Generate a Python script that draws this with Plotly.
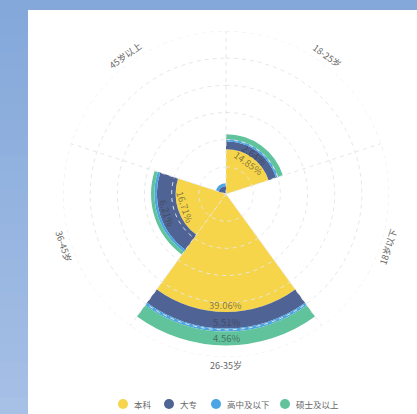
import math
import numpy as np
import plotly.graph_objects as go

# Age groups, clockwise from north, one 72-degree sector each
categories = ["18-25岁", "18岁以下", "26-35岁", "36-45岁", "45岁以上"]
sector_centers = [36, 108, 180, 252, 324]
sector_width = 72

# Education levels (stacked outward) and their colours
series_names = ["本科", "大专", "高中及以下", "硕士及以上"]
series_colors = ["#f7d54a", "#4f6394", "#4ba4e3", "#60c39b"]

# Share of respondents (%) per age group
bachelor = [14.85, 0.0, 39.06, 16.71, 0.0]
college = [2.64, 0.0, 5.51, 6.21, 2.60]
high_school = [0.72, 0.0, 1.02, 0.80, 1.00]
master = [1.62, 0.0, 4.56, 1.12, 0.0]

# Which segments carry a value label: (series index, category index)
labelled = [(0, 0), (1, 0), (0, 2), (1, 2), (3, 2), (0, 3), (1, 3)]

series_values = [bachelor, college, high_school, master]

# Canvas and polar geometry
W, H = 417, 414
CX, CY, R_PX = 226, 194, 163          # centre and outer radius in px
R_MAX, RING_STEP = 54, 9              # radial axis range and ring spacing
FONT = "Noto Sans CJK SC, Noto Sans, sans-serif"
GRID = "#e6e6e6"

fig = go.Figure()

for name, color, vals in zip(series_names, series_colors, series_values):
    fig.add_trace(go.Barpolar(
        r=vals, theta=sector_centers, width=[sector_width] * len(vals),
        name=name, marker=dict(color=color, line=dict(width=0)),
        showlegend=False,
    ))

# Dashed rings and spokes drawn over the bars
ring_theta = np.linspace(0, 360, 241)
for k in range(1, R_MAX // RING_STEP + 1):
    fig.add_trace(go.Scatterpolar(
        r=[k * RING_STEP] * len(ring_theta), theta=ring_theta, mode="lines",
        line=dict(color=GRID, width=1, dash="4px,4px"),
        hoverinfo="skip", showlegend=False,
    ))
for c in sector_centers:
    edge = c - sector_width / 2
    fig.add_trace(go.Scatterpolar(
        r=[0, R_MAX], theta=[edge, edge], mode="lines",
        line=dict(color=GRID, width=1, dash="4px,4px"),
        hoverinfo="skip", showlegend=False,
    ))


def to_paper(r_px, theta_deg):
    t = math.radians(theta_deg)
    x = CX + r_px * math.sin(t)
    y = CY - r_px * math.cos(t)
    return x / W, 1 - y / H


def tangent_angle(theta_deg):
    a = (theta_deg - 180) % 360
    if a > 90:
        a -= 180
    if a > 90:
        a -= 180
    if a < -90:
        a += 180
    return a


px_per_unit = R_PX / R_MAX
annotations = []
shapes = []

# Value labels near the outer end of each segment
for si, ci in labelled:
    base = sum(series_values[j][ci] for j in range(si))
    val = series_values[si][ci]
    r_lab = base + val - min(val / 2, 2.3)
    x, y = to_paper(r_lab * px_per_unit, sector_centers[ci])
    annotations.append(dict(
        x=x, y=y, xref="paper", yref="paper", showarrow=False,
        text=f"{val:.2f}%", textangle=tangent_angle(sector_centers[ci]),
        font=dict(family=FONT, size=9.5, color="rgba(60,60,60,0.62)"),
        xanchor="center", yanchor="middle",
    ))

# Category labels just outside the outer ring
for cat, c in zip(categories, sector_centers):
    x, y = to_paper(R_PX + 8, c)
    annotations.append(dict(
        x=x, y=y, xref="paper", yref="paper", showarrow=False,
        text=cat, textangle=tangent_angle(c),
        font=dict(family=FONT, size=9, color="#666666"),
        xanchor="center", yanchor="middle",
    ))

# Legend row: round swatch followed by the series name
legend_x = [123, 169, 216, 285]
LEG_Y, DOT_R = 404, 5
for name, color, lx in zip(series_names, series_colors, legend_x):
    shapes.append(dict(type="circle", xref="paper", yref="paper",
                       x0=(lx - DOT_R) / W, x1=(lx + DOT_R) / W,
                       y0=1 - (LEG_Y + DOT_R) / H, y1=1 - (LEG_Y - DOT_R) / H,
                       fillcolor=color, line=dict(width=0)))
    annotations.append(dict(
        x=(lx + 9) / W, y=1 - LEG_Y / H, xref="paper", yref="paper",
        showarrow=False, text=name, xanchor="left", yanchor="middle",
        font=dict(family=FONT, size=8.5, color="#666666"),
    ))

# Blue page background with a soft vertical gradient, white card on top
n_band = 24
for i in range(n_band):
    f = i / (n_band - 1)
    r_c = int(132 + f * (166 - 132))
    g_c = int(168 + f * (192 - 168))
    b_c = int(218 + f * (230 - 218))
    shapes.append(dict(type="rect", xref="paper", yref="paper",
                       x0=0, x1=28 / W, y0=max(0, 1 - (i + 1.6) / n_band),
                       y1=1 - i / n_band, fillcolor=f"rgb({r_c},{g_c},{b_c})",
                       line=dict(width=0), layer="below"))
shapes.append(dict(type="rect", xref="paper", yref="paper", x0=28 / W, x1=1,
                   y0=0, y1=1 - 10 / H, fillcolor="white", line=dict(width=0),
                   layer="below"))

fig.update_layout(
    width=W, height=H,
    margin=dict(l=0, r=0, t=0, b=0),
    paper_bgcolor="#84a8da",
    plot_bgcolor="rgba(0,0,0,0)",
    font=dict(family=FONT),
    showlegend=False,
    polar=dict(
        domain=dict(x=[(CX - R_PX) / W, (CX + R_PX) / W],
                    y=[(H - CY - R_PX) / H, (H - CY + R_PX) / H]),
        bgcolor="rgba(0,0,0,0)",
        barmode="stack",
        radialaxis=dict(range=[0, R_MAX], showgrid=False, showline=False,
                        showticklabels=False, ticks=""),
        angularaxis=dict(rotation=90, direction="clockwise", showgrid=False,
                         showline=False, showticklabels=False, ticks=""),
    ),
    annotations=annotations,
    shapes=shapes,
)

fig.write_html("out.html")
